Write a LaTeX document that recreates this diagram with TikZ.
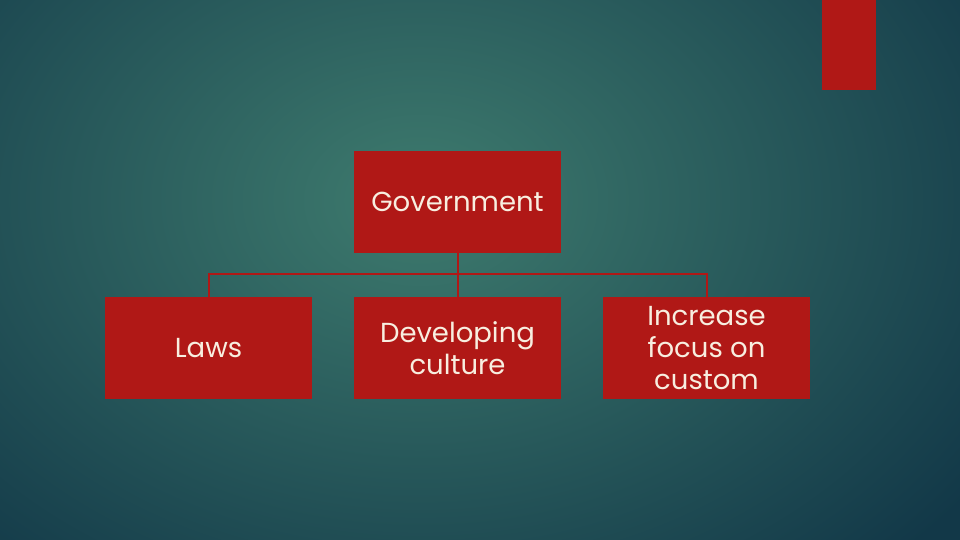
\documentclass[tikz,border=0pt]{standalone}
\usepackage{fontspec}
\setmainfont{Poppins}
\definecolor{boxred}{HTML}{B01816}
\definecolor{bgin}{HTML}{3E7B6E}
\definecolor{bgout}{HTML}{123848}
\definecolor{txt}{HTML}{F8EEE0}
\begin{document}
\begin{tikzpicture}[x=1pt,y=-1pt,
  orgbox/.style={fill=boxred, draw=none, minimum width=207pt, minimum height=102pt, inner sep=0pt,
    text=txt, align=center, font=\fontsize{27.5}{32}\selectfont},
  link/.style={draw=boxred, line width=2pt}]
\useasboundingbox (0,0) rectangle (960,540);
\shade[inner color=bgin, outer color=bgout] (-260,-300) rectangle (1100,700);
\fill[boxred] (822,0) rectangle (876,90);
\node[orgbox] (gov) at (457.5,202) {Government};
\node[orgbox] (laws) at (208.5,348) {Laws};
\node[orgbox] (dev) at (457.5,348) {Developing\\culture};
\node[orgbox] (inc) at (706.5,348) {Increase\\focus on\\custom};
\coordinate (bar) at (457.5,274);
\draw[link] (gov.south) -- (bar);
\draw[link] (laws.north) |- (bar) -| (inc.north);
\draw[link] (bar) -- (dev.north);
\end{tikzpicture}
\end{document}
